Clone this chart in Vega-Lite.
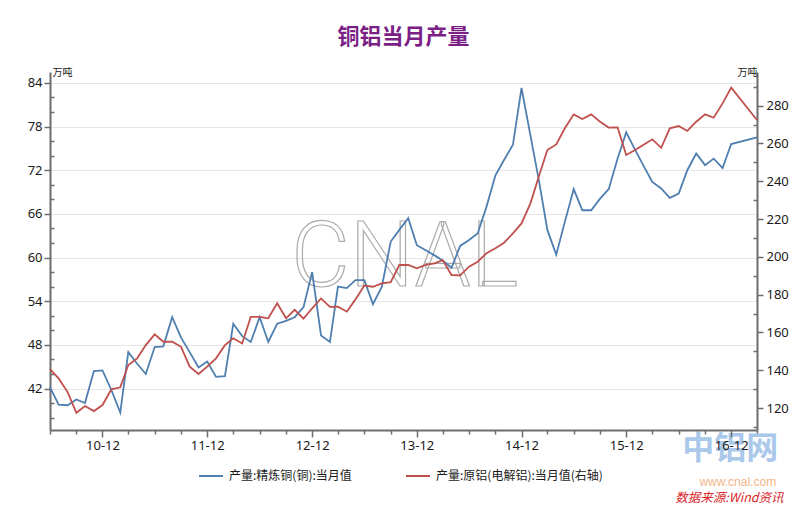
{
  "$schema": "https://vega.github.io/schema/vega-lite/v6.json",
  "width": 707,
  "height": 358,
  "autosize": "none",
  "padding": {"left": 50, "top": 72, "right": 53, "bottom": 80},
  "background": "white",
  "title": {"text": "铜铝当月产量", "color": "#7b1f86", "fontSize": 22, "font": "Noto Sans CJK SC", "fontWeight": "bold", "anchor": "middle", "frame": "group", "offset": 18},
  "config": {
    "view": {"stroke": null},
    "font": "Noto Sans",
    "axis": {"domainColor": "#6d6d6d", "domainWidth": 2, "tickColor": "#6d6d6d", "tickWidth": 1.5, "labelColor": "#1a1a1a", "labelFont": "Noto Sans", "labelFontSize": 13, "titleFont": "Noto Sans CJK SC", "titleFontSize": 10, "titleFontWeight": "normal", "titleColor": "#1a1a1a"}
  },
  "datasets": {
    "m": [
      {"d": "2010/06/01", "cu": 42.2, "al": 140.6},
      {"d": "2010/07/01", "cu": 39.8, "al": 135.7},
      {"d": "2010/08/01", "cu": 39.7, "al": 128.6},
      {"d": "2010/09/01", "cu": 40.5, "al": 117.5},
      {"d": "2010/10/01", "cu": 40.0, "al": 121.1},
      {"d": "2010/11/01", "cu": 44.4, "al": 118.4},
      {"d": "2010/12/01", "cu": 44.5, "al": 121.6},
      {"d": "2011/01/01", "cu": 41.8, "al": 129.9},
      {"d": "2011/02/01", "cu": 38.7, "al": 131.0},
      {"d": "2011/03/01", "cu": 47.0, "al": 142.8},
      {"d": "2011/04/01", "cu": 45.4, "al": 146.3},
      {"d": "2011/05/01", "cu": 44.0, "al": 153.3},
      {"d": "2011/06/01", "cu": 47.7, "al": 159.0},
      {"d": "2011/07/01", "cu": 47.8, "al": 155.1},
      {"d": "2011/08/01", "cu": 51.8, "al": 155.1},
      {"d": "2011/09/01", "cu": 49.0, "al": 152.4},
      {"d": "2011/10/01", "cu": 47.0, "al": 141.9},
      {"d": "2011/11/01", "cu": 44.9, "al": 138.0},
      {"d": "2011/12/01", "cu": 45.7, "al": 141.9},
      {"d": "2012/01/01", "cu": 43.6, "al": 146.3},
      {"d": "2012/02/01", "cu": 43.7, "al": 153.3},
      {"d": "2012/03/01", "cu": 50.9, "al": 156.9},
      {"d": "2012/04/01", "cu": 49.2, "al": 154.2},
      {"d": "2012/05/01", "cu": 48.4, "al": 168.3},
      {"d": "2012/06/01", "cu": 51.8, "al": 168.3},
      {"d": "2012/07/01", "cu": 48.4, "al": 167.5},
      {"d": "2012/08/01", "cu": 50.9, "al": 175.4},
      {"d": "2012/09/01", "cu": 51.3, "al": 167.5},
      {"d": "2012/10/01", "cu": 51.8, "al": 172.0},
      {"d": "2012/11/01", "cu": 53.2, "al": 167.3},
      {"d": "2012/12/01", "cu": 58.0, "al": 172.8},
      {"d": "2013/01/01", "cu": 49.3, "al": 178.0},
      {"d": "2013/02/01", "cu": 48.4, "al": 173.5},
      {"d": "2013/03/01", "cu": 56.0, "al": 173.6},
      {"d": "2013/04/01", "cu": 55.8, "al": 171.0},
      {"d": "2013/05/01", "cu": 56.9, "al": 177.5},
      {"d": "2013/06/01", "cu": 56.9, "al": 184.8},
      {"d": "2013/07/01", "cu": 53.6, "al": 184.2},
      {"d": "2013/08/01", "cu": 56.0, "al": 186.0},
      {"d": "2013/09/01", "cu": 62.2, "al": 186.6},
      {"d": "2013/10/01", "cu": 63.8, "al": 195.7},
      {"d": "2013/11/01", "cu": 65.4, "al": 195.7},
      {"d": "2013/12/01", "cu": 61.7, "al": 193.9},
      {"d": "2014/01/01", "cu": 61.0, "al": 195.7},
      {"d": "2014/02/01", "cu": 60.3, "al": 196.6},
      {"d": "2014/03/01", "cu": 59.6, "al": 198.3},
      {"d": "2014/04/01", "cu": 58.6, "al": 190.4},
      {"d": "2014/05/01", "cu": 61.6, "al": 190.2},
      {"d": "2014/06/01", "cu": 62.4, "al": 194.8},
      {"d": "2014/07/01", "cu": 63.3, "al": 197.4},
      {"d": "2014/08/01", "cu": 67.0, "al": 201.9},
      {"d": "2014/09/01", "cu": 71.3, "al": 204.5},
      {"d": "2014/10/01", "cu": 73.4, "al": 207.5},
      {"d": "2014/11/01", "cu": 75.5, "al": 212.4},
      {"d": "2014/12/01", "cu": 83.3, "al": 217.7},
      {"d": "2015/01/01", "cu": 76.8, "al": 228.3},
      {"d": "2015/02/01", "cu": 70.3, "al": 243.3},
      {"d": "2015/03/01", "cu": 63.8, "al": 256.5},
      {"d": "2015/04/01", "cu": 60.4, "al": 259.5},
      {"d": "2015/05/01", "cu": 64.9, "al": 268.0},
      {"d": "2015/06/01", "cu": 69.4, "al": 275.4},
      {"d": "2015/07/01", "cu": 66.5, "al": 272.9},
      {"d": "2015/08/01", "cu": 66.5, "al": 275.4},
      {"d": "2015/09/01", "cu": 68.1, "al": 271.5},
      {"d": "2015/10/01", "cu": 69.4, "al": 268.4},
      {"d": "2015/11/01", "cu": 73.6, "al": 268.5},
      {"d": "2015/12/01", "cu": 77.2, "al": 253.9},
      {"d": "2016/01/01", "cu": 74.8, "al": 256.5},
      {"d": "2016/02/01", "cu": 72.5, "al": 259.5},
      {"d": "2016/03/01", "cu": 70.4, "al": 262.2},
      {"d": "2016/04/01", "cu": 69.5, "al": 257.7},
      {"d": "2016/05/01", "cu": 68.2, "al": 268.0},
      {"d": "2016/06/01", "cu": 68.8, "al": 269.2},
      {"d": "2016/07/01", "cu": 72.0, "al": 266.6},
      {"d": "2016/08/01", "cu": 74.3, "al": 271.5},
      {"d": "2016/09/01", "cu": 72.7, "al": 275.4},
      {"d": "2016/10/01", "cu": 73.6, "al": 273.6},
      {"d": "2016/11/01", "cu": 72.3, "al": 281.2},
      {"d": "2016/12/01", "cu": 75.6, "al": 289.5},
      {"d": "2017/03/01", "cu": 76.5, "al": 272.4}
    ]
  },
  "data": {"name": "m"},
  "resolve": {"scale": {"y": "independent"}, "axis": {"x": "independent", "y": "independent"}},
  "layer": [
    {
      "data": {"values": [{}]},
      "mark": {"type": "text", "text": "CNAL", "font": "Roboto", "fontWeight": 300, "fontSize": 90, "fill": "transparent", "stroke": "#ababab", "strokeWidth": 1.2, "align": "center", "baseline": "middle"},
      "encoding": {
        "x": {"datum": {"year": 2013, "month": 10, "date": 20}, "type": "temporal", "scale": {"domain": [{"year": 2010, "month": 6, "date": 1}, {"year": 2017, "month": 3, "date": 1}]}, "axis": null},
        "y": {"datum": 59.8, "type": "quantitative", "scale": {"domain": [36.3, 85.5], "nice": false, "zero": false}, "axis": null}
      }
    },
    {
      "data": {"values": [{}]},
      "mark": {"type": "text", "text": "中铝网", "font": "Noto Sans CJK SC", "fontWeight": "bold", "fontSize": 32, "fill": "#a9c8ea", "align": "center", "baseline": "middle"},
      "encoding": {
        "x": {"datum": {"year": 2016, "month": 11, "date": 28}, "type": "temporal", "scale": {"domain": [{"year": 2010, "month": 6, "date": 1}, {"year": 2017, "month": 3, "date": 1}]}, "axis": null},
        "y": {"datum": 33.7, "type": "quantitative", "scale": {"domain": [36.3, 85.5], "nice": false, "zero": false}, "axis": null}
      }
    },
    {
      "data": {"values": [{}]},
      "mark": {"type": "text", "text": "www.cnal.com", "font": "Liberation Sans", "fontSize": 12, "fill": "#f3b58a", "align": "center", "baseline": "middle"},
      "encoding": {
        "x": {"datum": {"year": 2016, "month": 12, "date": 24}, "type": "temporal", "scale": {"domain": [{"year": 2010, "month": 6, "date": 1}, {"year": 2017, "month": 3, "date": 1}]}, "axis": null},
        "y": {"datum": 29.2, "type": "quantitative", "scale": {"domain": [36.3, 85.5], "nice": false, "zero": false}, "axis": null}
      }
    },
    {
      "data": {"values": [{}]},
      "mark": {"type": "text", "text": "数据来源:Wind资讯", "font": "Noto Sans CJK SC", "fontStyle": "italic", "fontSize": 12.5, "fill": "#d8262b", "align": "center", "baseline": "middle"},
      "encoding": {
        "x": {"datum": {"year": 2016, "month": 11, "date": 25}, "type": "temporal", "scale": {"domain": [{"year": 2010, "month": 6, "date": 1}, {"year": 2017, "month": 3, "date": 1}]}, "axis": null},
        "y": {"datum": 26.9, "type": "quantitative", "scale": {"domain": [36.3, 85.5], "nice": false, "zero": false}, "axis": null}
      }
    },
    {
      "mark": {"type": "line", "opacity": 0},
      "encoding": {
        "x": {"field": "d", "type": "temporal", "scale": {"domain": [{"year": 2010, "month": 6, "date": 1}, {"year": 2017, "month": 3, "date": 1}]},
          "axis": {"orient": "bottom", "values": [
            {"year": 2010, "month": 6, "date": 1}, {"year": 2010, "month": 9, "date": 1},
            {"year": 2011, "month": 3, "date": 1}, {"year": 2011, "month": 6, "date": 1}, {"year": 2011, "month": 9, "date": 1},
            {"year": 2012, "month": 3, "date": 1}, {"year": 2012, "month": 6, "date": 1}, {"year": 2012, "month": 9, "date": 1},
            {"year": 2013, "month": 3, "date": 1}, {"year": 2013, "month": 6, "date": 1}, {"year": 2013, "month": 9, "date": 1},
            {"year": 2014, "month": 3, "date": 1}, {"year": 2014, "month": 6, "date": 1}, {"year": 2014, "month": 9, "date": 1},
            {"year": 2015, "month": 3, "date": 1}, {"year": 2015, "month": 6, "date": 1}, {"year": 2015, "month": 9, "date": 1},
            {"year": 2016, "month": 3, "date": 1}, {"year": 2016, "month": 6, "date": 1}, {"year": 2016, "month": 9, "date": 1},
            {"year": 2017, "month": 3, "date": 1}],
            "tickSize": 4, "labels": false, "domain": false, "grid": false, "title": null}},
        "y": {"field": "cu", "type": "quantitative", "scale": {"domain": [36.3, 85.5], "nice": false, "zero": false},
          "axis": {"orient": "left", "values": [38, 40, 44, 46, 50, 52, 56, 58, 62, 64, 68, 70, 74, 76, 80, 82], "tickSize": -4, "labels": false, "domain": false, "grid": false, "title": null}}
      }
    },
    {
      "mark": {"type": "line", "opacity": 0},
      "encoding": {
        "x": {"field": "d", "type": "temporal", "scale": {"domain": [{"year": 2010, "month": 6, "date": 1}, {"year": 2017, "month": 3, "date": 1}]}, "axis": null},
        "y": {"field": "al", "type": "quantitative", "scale": {"domain": [108.4, 297.8], "nice": false, "zero": false},
          "axis": {"orient": "right", "values": [110, 130, 150, 170, 190, 210, 230, 250, 270, 290], "tickSize": -4, "labels": false, "domain": false, "grid": false, "title": null}}
      }
    },
    {
      "mark": {"type": "line", "strokeWidth": 1.8},
      "encoding": {
        "x": {"field": "d", "type": "temporal", "scale": {"domain": [{"year": 2010, "month": 6, "date": 1}, {"year": 2017, "month": 3, "date": 1}]},
          "axis": {"orient": "bottom", "zindex": 1, "values": [
            {"year": 2010, "month": 12, "date": 1}, {"year": 2011, "month": 12, "date": 1}, {"year": 2012, "month": 12, "date": 1},
            {"year": 2013, "month": 12, "date": 1}, {"year": 2014, "month": 12, "date": 1}, {"year": 2015, "month": 12, "date": 1},
            {"year": 2016, "month": 12, "date": 1}],
            "format": "%y-%m", "tickSize": 7, "labelPadding": 2, "grid": false, "title": null}},
        "y": {"field": "cu", "type": "quantitative", "scale": {"domain": [36.3, 85.5], "nice": false, "zero": false},
          "axis": {"orient": "left", "values": [42, 48, 54, 60, 66, 72, 78, 84], "tickSize": 6, "labelPadding": 2, "grid": true, "gridColor": "#e6e6e6", "gridWidth": 1,
            "title": "万吨", "titleAngle": 0, "titleAlign": "left", "titleBaseline": "alphabetic", "titleX": 2, "titleY": 3}},
        "color": {"datum": "产量:精炼铜(铜):当月值", "type": "nominal",
          "scale": {"domain": ["产量:精炼铜(铜):当月值", "产量:原铝(电解铝):当月值(右轴)"], "range": ["#4f7fb0", "#c0504d"]},
          "legend": {"orient": "none", "legendX": 148, "legendY": 391, "direction": "horizontal", "title": null, "symbolType": "stroke", "symbolStrokeWidth": 2, "symbolSize": 576, "labelFont": "Noto Sans CJK SC", "labelFontSize": 12, "labelColor": "#1a1a1a", "labelLimit": 400, "columnPadding": 50, "labelOffset": 5}}
      }
    },
    {
      "mark": {"type": "line", "strokeWidth": 1.8},
      "encoding": {
        "x": {"field": "d", "type": "temporal", "scale": {"domain": [{"year": 2010, "month": 6, "date": 1}, {"year": 2017, "month": 3, "date": 1}]}, "axis": null},
        "y": {"field": "al", "type": "quantitative", "scale": {"domain": [108.4, 297.8], "nice": false, "zero": false},
          "axis": {"orient": "right", "values": [120, 140, 160, 180, 200, 220, 240, 260, 280], "tickSize": 6, "labelPadding": 3, "grid": false,
            "title": "万吨", "titleAngle": 0, "titleAlign": "right", "titleBaseline": "alphabetic", "titleX": 0, "titleY": 3}},
        "color": {"datum": "产量:原铝(电解铝):当月值(右轴)", "type": "nominal"}
      }
    }
  ]
}
